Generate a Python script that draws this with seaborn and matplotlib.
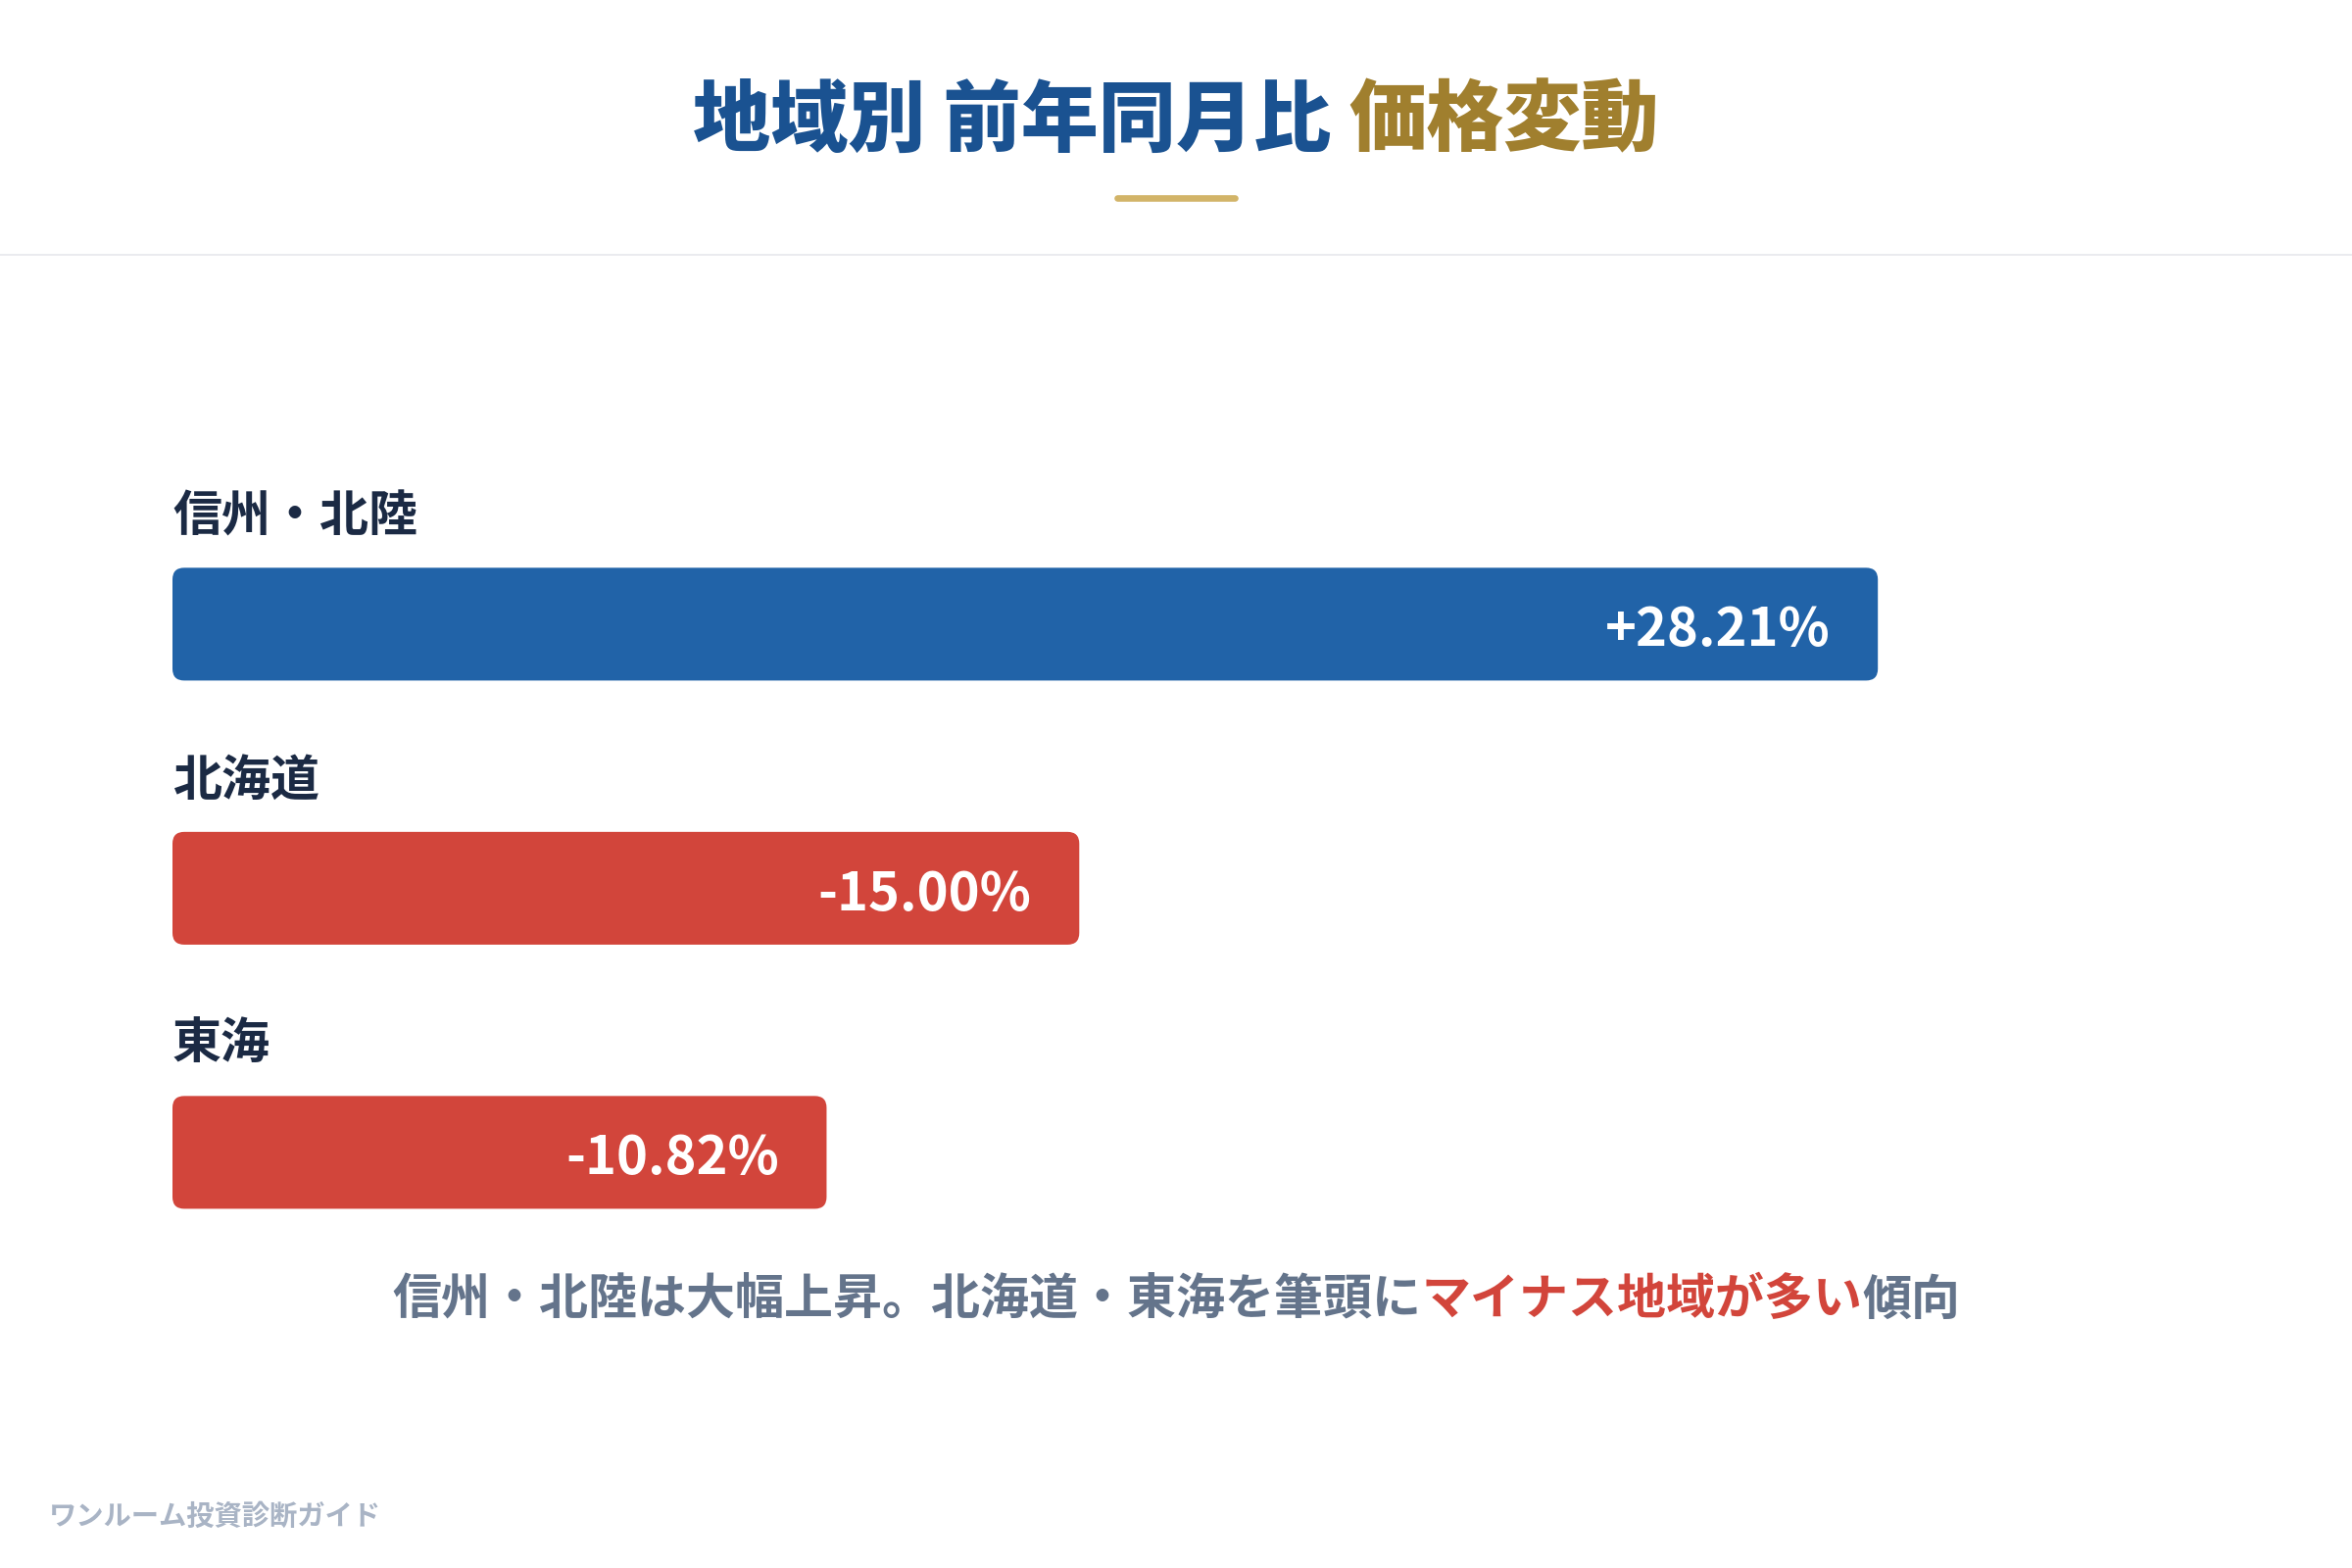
import pandas as pd
import seaborn as sns
import matplotlib.pyplot as plt
from matplotlib.patches import FancyBboxPatch
from matplotlib.lines import Line2D

# データ
regions = ['信州・北陸', '北海道', '東海']
changes = [28.21, -15.00, -10.82]
value_labels = ['+28.21%', '-15.00%', '-10.82%']

title_main = '地域別 前年同月比 '
title_accent = '価格変動'
note_parts = ['信州・北陸は大幅上昇。北海道・東海を筆頭に', 'マイナス地域が多い', '傾向']
footer = 'ワンルーム投資診断ガイド'

BLUE = '#2163a8'
RED = '#d2453b'
NAVY = '#1b2a44'
TITLE_BLUE = '#1a5291'
GOLD = '#a07f2e'
GRAY = '#64748b'

df = pd.DataFrame({'region': regions, 'change': changes})
df['size'] = df['change'].abs()
palette = {r: (BLUE if c >= 0 else RED) for r, c in zip(regions, changes)}

sns.set_theme(style='white')
plt.rcParams['font.family'] = ['Noto Sans CJK JP', 'DejaVu Sans']

fig = plt.figure(figsize=(12, 8), dpi=200)
fig.patch.set_facecolor('white')
ax = fig.add_axes([176 / 2400, 0.164, 2048 / 2400, 0.5727])

sns.barplot(data=df, y='region', x='size', hue='region', palette=palette,
            order=regions, width=0.427, legend=False, ax=ax, saturation=1)
ax.set_xlim(0, 33.2)
ax.set_ylim(2.6, -0.8)
ax.axis('off')

# 角丸バーに差し替え
px_x = ax.get_position().width * 2400 / 33.2
px_y = ax.get_position().height * 1600 / 3.4
radius = 12 / px_x
for patch in list(ax.patches):
    x0, y0 = patch.get_x(), patch.get_y()
    w, h = patch.get_width(), patch.get_height()
    fc = patch.get_facecolor()
    patch.remove()
    ax.add_patch(FancyBboxPatch((x0, y0), w, h,
                                boxstyle=f'round,pad=0,rounding_size={radius}',
                                mutation_aspect=px_x / px_y,
                                facecolor=fc, edgecolor='none'))

# ラベルと値
for i, (name, lab) in enumerate(zip(regions, value_labels)):
    length = df['size'].iloc[i]
    ax.text(0, i - 0.405, name, ha='left', va='center', fontsize=18,
            fontweight='bold', color=NAVY)
    ax.annotate(lab, xy=(length, i), xytext=(-17.5, -2.5), textcoords='offset points',
                ha='right', va='center', fontsize=19.5, fontweight='bold', color='white')

# タイトル(2色)
fig.canvas.draw()
renderer = fig.canvas.get_renderer()
t1 = fig.text(0, 0.9225, title_main, fontsize=28.5, fontweight='black',
              color=TITLE_BLUE, va='center', ha='left')
t2 = fig.text(0, 0.9225, title_accent, fontsize=28.5, fontweight='black',
              color=GOLD, va='center', ha='left')
w1 = t1.get_window_extent(renderer).width / 2400
w2 = t2.get_window_extent(renderer).width / 2400
start = 0.5 - (w1 + w2) / 2
t1.set_x(start)
t2.set_x(start + w1)

# 金色の下線と区切り線
fig.add_artist(Line2D([1140 / 2400, 1260 / 2400], [1 - 202 / 1600] * 2,
                      color='#d2b468', linewidth=2.4, solid_capstyle='round'))
fig.add_artist(Line2D([0, 1], [1 - 260 / 1600] * 2, color='#e6e8ec', linewidth=0.6))

# 注釈(色分け)
note_colors = [GRAY, RED, GRAY]
note_texts = [fig.text(0, 1 - 1327 / 1600, s, fontsize=18, fontweight='bold',
                       color=c, va='center', ha='left')
              for s, c in zip(note_parts, note_colors)]
widths = [t.get_window_extent(renderer).width / 2400 for t in note_texts]
x = 0.5 - sum(widths) / 2
for t, w in zip(note_texts, widths):
    t.set_x(x)
    x += w

fig.text(50 / 2400, 1 - 1548 / 1600, footer, fontsize=10.2, fontweight='bold',
         color='#a9b4c5', va='center', ha='left')

fig.savefig('out.png', dpi=200, facecolor='white')
